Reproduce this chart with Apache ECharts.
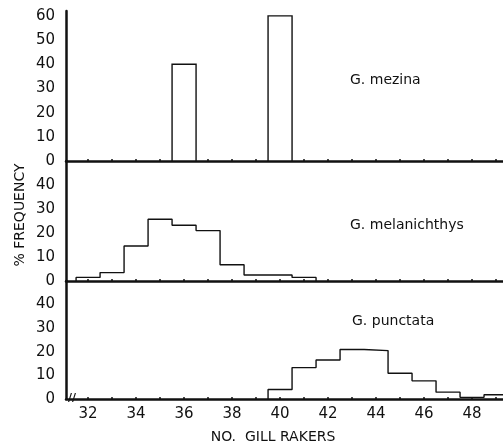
<!DOCTYPE html>
<html lang="en">
<head>
	<meta charset="UTF-8">
	<title>Gill rakers</title>
	<script src="https://cdn.jsdelivr.net/npm/echarts@6/dist/echarts.min.js"></script>
	<style>
		html, body { margin: 0; padding: 0; background: #fff; }
		#chart { width: 503px; height: 447px; }
	</style>
</head>
<body>
	<div id="chart"></div>
	<script>
		// 数据
		var xTickLabels = [32, 34, 36, 38, 40, 42, 44, 46, 48]
		var xTicks = [32, 33, 34, 35, 36, 37, 38, 39, 40, 41, 42, 43, 44, 45, 46, 47, 48, 49]

		var mezinaBins = [36, 40]
		var mezinaVals = [40, 60]

		var melanBins = [32, 33, 34, 35, 36, 37, 38, 39, 40, 41]
		var melanVals = [1.5, 3.5, 14.6, 25.7, 23.2, 21, 6.8, 2.5, 2.5, 1.5]

		var punctBins = [40, 41, 42, 43, 44, 45, 46, 47, 48, 49]
		var punctVals = [4, 13.3, 16.5, 21, 20.5, 10.9, 7.7, 2.9, 0.7, 1.8]

		var panelNames = ['G. mezina', 'G. melanichthys', 'G. punctata']

		// histogram outline from bins
		function stepPoints(bins, vals) {
			var pts = [[bins[0] - 0.5, 0]]
			bins.forEach(function (b, i) {
				pts.push([b - 0.5, vals[i]])
				pts.push([b + 0.5, vals[i]])
			})
			pts.push([bins[bins.length - 1] + 0.5, 0])
			return pts
		}

		var ink = '#111'
		var font = 'DejaVu Sans'
		var xMin = 31.08, xMax = 49.29

		function xAxisFor(idx, showLabels) {
			return {
				type: 'value', gridIndex: idx, min: xMin, max: xMax,
				axisLine: { lineStyle: { color: ink, width: 2.5 } },
				axisTick: { show: true, inside: true, length: 2, customValues: xTicks, lineStyle: { color: ink, width: 1.5 } },
				axisLabel: { show: showLabels, customValues: xTickLabels, color: ink, fontFamily: font, fontSize: 15, margin: 8 },
				splitLine: { show: false }
			}
		}
		function yAxisFor(idx, max) {
			return {
				type: 'value', gridIndex: idx, min: 0, max: max, interval: 10,
				axisLine: { show: true, lineStyle: { color: ink, width: 2.5 } },
				axisTick: { show: false },
				axisLabel: { color: ink, fontFamily: font, fontSize: 15, margin: 11, showMaxLabel: false },
				splitLine: { show: false }
			}
		}

		var chart = echarts.init(document.getElementById('chart'))
		var option = {
			animation: false,
			backgroundColor: '#fff',
			grid: [
				{ left: 66, right: 0, top: 11, height: 150 },
				{ left: 66, right: 0, top: 161, height: 120 },
				{ left: 66, right: 0, top: 281, height: 118 }
			],
			xAxis: [xAxisFor(0, false), xAxisFor(1, false), xAxisFor(2, true)],
			yAxis: [yAxisFor(0, 62), yAxisFor(1, 50), yAxisFor(2, 50)],
			title: [
				{ text: panelNames[0], left: 350, top: 73, textStyle: { color: ink, fontFamily: font, fontSize: 14, fontWeight: 'normal' }, padding: 0 },
				{ text: panelNames[1], left: 350, top: 218, textStyle: { color: ink, fontFamily: font, fontSize: 14, fontWeight: 'normal' }, padding: 0 },
				{ text: panelNames[2], left: 352, top: 314, textStyle: { color: ink, fontFamily: font, fontSize: 14, fontWeight: 'normal' }, padding: 0 }
			],
			graphic: [
				{
					type: 'text', x: 20, y: 215, rotation: Math.PI / 2,
					style: { text: '% FREQUENCY', fill: ink, font: '14px "DejaVu Sans"', align: 'center', verticalAlign: 'middle' }
				},
				{
					type: 'text', x: 273, y: 437,
					style: { text: 'NO.  GILL RAKERS', fill: ink, font: '14px "DejaVu Sans"', align: 'center', verticalAlign: 'middle' }
				},
				{
					type: 'text', x: 72, y: 398,
					style: { text: '//', fill: ink, font: 'bold 11px "DejaVu Sans"', align: 'center', verticalAlign: 'middle' }
				}
			],
			series: [
				{
					type: 'custom', xAxisIndex: 0, yAxisIndex: 0,
					data: mezinaBins.map(function (b, i) { return [b, mezinaVals[i]] }),
					renderItem: function (params, api) {
						var p0 = api.coord([api.value(0) - 0.5, api.value(1)])
						var p1 = api.coord([api.value(0) + 0.5, 0])
						return {
							type: 'rect',
							shape: { x: p0[0], y: p0[1], width: p1[0] - p0[0], height: p1[1] - p0[1] },
							style: { fill: '#fff', stroke: ink, lineWidth: 1.4 }
						}
					}
				},
				{
					type: 'line', xAxisIndex: 1, yAxisIndex: 1, symbol: 'none',
					data: stepPoints(melanBins, melanVals),
					lineStyle: { color: ink, width: 1.4 }
				},
				{
					type: 'line', xAxisIndex: 2, yAxisIndex: 2, symbol: 'none',
					data: stepPoints(punctBins, punctVals),
					lineStyle: { color: ink, width: 1.4 }
				}
			]
		}
		chart.setOption(option)
	</script>
</body>
</html>
